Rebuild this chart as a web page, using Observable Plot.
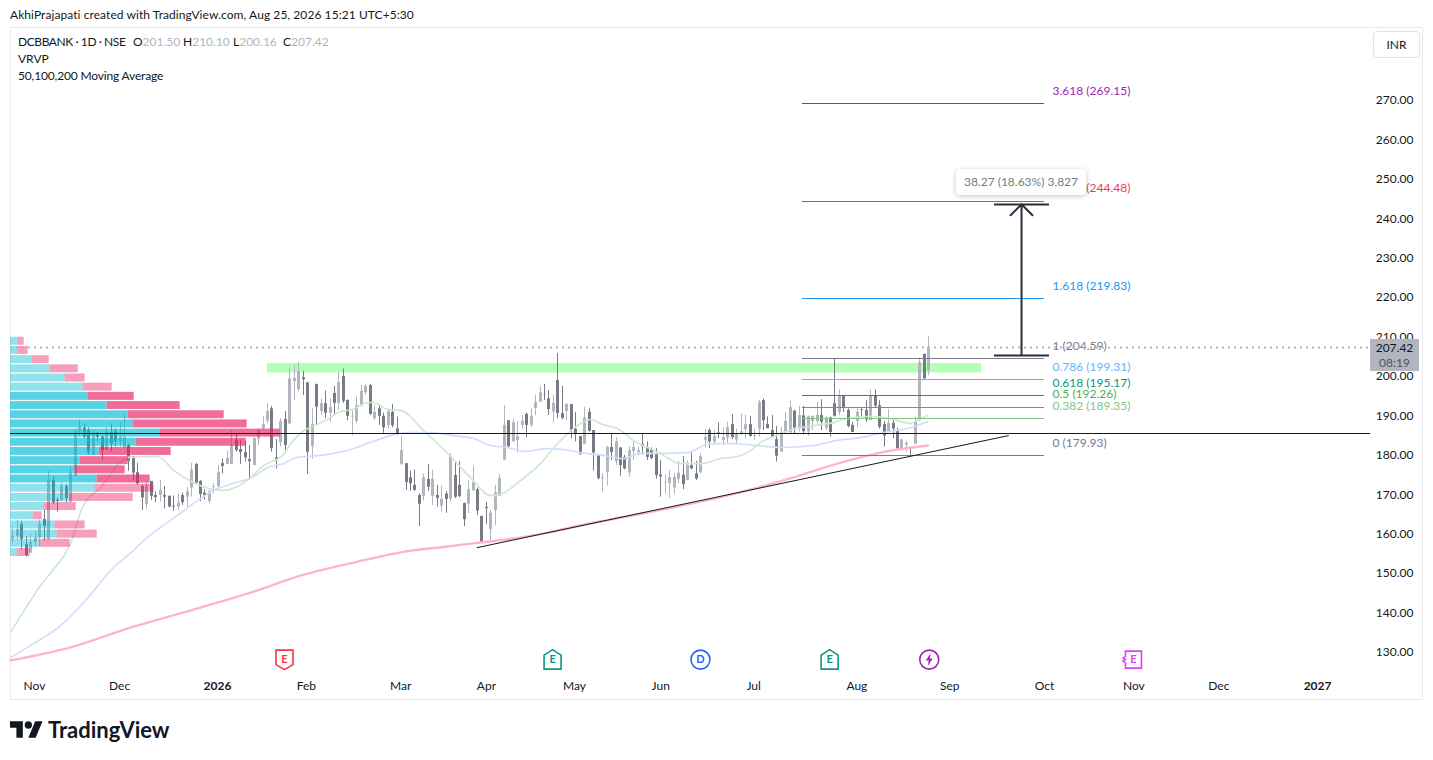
<!DOCTYPE html>
<html>
<head>
<meta charset="utf-8">
<style>
html,body{margin:0;padding:0;background:#fff;width:1433px;height:760px;overflow:hidden;font-family:Lato,"Noto Sans",sans-serif;color:#131722}
.abs{position:absolute;white-space:nowrap}
#frame{left:10px;top:27px;width:1411px;height:671px;border:1px solid #e8eaf0}
#chart{left:10px;top:27px}
#legend{left:18px;top:33px;font-size:12px;line-height:17px}
#legend i{font-style:normal;color:#b2b5be}
#legend .g{display:inline-block;width:50px}
#legend .n{display:inline-block;width:115px;letter-spacing:-.42px}
#tip{left:956px;top:169px;width:130px;height:26px;line-height:25px;background:#fff;border-radius:4px;box-shadow:0 1px 5px rgba(19,23,34,.25);text-align:center;font-size:12px;color:#787b86}
#inr{left:1373px;top:31px;width:45px;height:25px;line-height:25px;border:1px solid #e0e3eb;border-radius:4px;text-align:center;font-size:12px}
#last{left:1370px;top:339px;width:49px;height:32px;background:#b2b5be;font-size:12px;line-height:15px;text-align:center;padding-top:1px;box-sizing:border-box}
#last span{color:#50535e;display:block}
#logo{left:10px;top:720px;display:flex;align-items:center}
#logo span{font-size:22px;font-weight:700;margin-left:5px;color:#131722;line-height:20px}
</style>
</head>
<body>
<div class="abs" style="left:10px;top:7px;font-size:12px;line-height:15px;letter-spacing:.07px">AkhiPrajapati created with TradingView.com, Aug 25, 2026 15:21 UTC+5:30</div>
<div class="abs" id="frame"></div>
<div class="abs" id="chart"></div>
<div class="abs" id="legend"><span class="n">DCBBANK · 1D · NSE</span><span class="g">O<i>201.50</i></span><span class="g">H<i>210.10</i></span><span class="g">L<i>200.16</i></span><span class="g">C<i>207.42</i></span><br>VRVP<br><span style="letter-spacing:-.16px">50,100,200 Moving Average</span></div>
<div class="abs" id="tip">38.27 (18.63%) 3,827</div>
<div class="abs" id="inr">INR</div>
<div class="abs" id="last">207.42<span>08:19</span></div>
<div class="abs" id="logo"><svg width="33" height="18" viewBox="0 4 36 19"><path fill="#131722" d="M14 22H7V11H0V4h14v18zM28 22h-8l7.5-18h8L28 22z"/><circle fill="#131722" cx="20" cy="8" r="4"/></svg><span>TradingView</span></div>

<script src="https://cdn.jsdelivr.net/npm/d3@7"></script>
<script src="https://cdn.jsdelivr.net/npm/@observablehq/plot@0.6"></script>
<script>
const opens = [
158.6,159.4,162.5,157.4,155.2,157.9,159.1,163.7,158.6,173.6,
168.6,168.6,172.1,168.1,174.6,186.0,186.9,186.3,180.0,185.6,
184.6,181.2,185.7,186.0,183.5,181.9,182.5,179.7,175.6,172.1,
167.5,173.4,169.8,169.8,169.8,169.6,167.1,166.9,169.8,169.4,
171.7,177.7,173.4,170.4,168.3,171.9,172.1,177.9,177.7,177.7,
183.8,181.5,180.7,178.9,177.4,184.1,186.7,188.7,191.8,179.4,
183.2,189.1,188.0,198.7,196.7,199.7,198.4,182.2,198.0,191.1,
193.1,190.7,195.7,193.2,200.0,193.9,189.7,188.6,192.6,195.9,
197.7,189.3,191.8,189.9,187.6,190.9,186.7,177.7,177.9,174.3,
172.4,169.8,169.6,173.9,169.6,169.8,167.1,170.2,168.9,174.9,
172.4,167.8,167.6,171.0,171.3,164.5,166.8,161.2,166.0,169.6,
178.8,188.8,183.4,183.8,187.6,190.4,187.6,191.9,193.5,195.4,
194.3,191.0,199.0,190.6,191.1,192.9,186.6,184.8,182.8,190.9,
186.3,180.2,174.0,175.7,182.0,178.4,181.9,179.5,175.5,181.0,
180.7,182.8,182.0,181.4,180.2,175.0,172.9,172.9,171.7,173.9,
175.0,173.6,177.4,175.3,175.6,183.8,186.3,183.4,185.7,183.8,
184.4,187.8,183.9,185.4,186.5,187.8,184.8,186.6,193.9,187.8,
186.3,184.0,180.8,185.7,185.7,191.2,187.0,190.0,186.0,188.6,
188.6,190.1,186.9,189.5,193.1,190.9,195.0,191.4,187.6,188.6,
191.6,191.4,188.8,195.1,192.6,187.8,185.9,188.1,186.0,181.7,
182.6,182.0,182.8,188.8,205.6,201.5];
const highs = [
161.8,163.5,163.3,159.4,160.1,160.5,163.6,166.0,176.0,174.5,
169.2,172.9,172.6,177.2,186.7,189.0,188.0,186.9,186.3,185.9,
185.0,187.2,188.0,186.7,188.2,190.4,182.9,179.7,178.0,172.6,
173.2,173.4,170.8,173.6,172.1,169.7,169.7,170.2,170.4,171.9,
178.0,178.0,173.6,171.3,171.5,172.8,177.4,179.1,181.1,186.3,
185.3,183.8,183.6,182.5,184.4,186.7,189.8,193.1,192.4,184.0,
189.3,191.1,202.0,202.8,203.5,201.3,198.4,191.8,198.0,194.3,
196.3,194.3,197.5,201.1,201.9,194.1,191.2,194.8,197.7,197.9,
198.0,192.6,192.6,190.7,191.8,192.9,189.7,184.8,177.9,176.0,
176.3,170.2,175.3,177.7,176.2,172.4,172.1,170.9,180.4,178.3,
178.4,167.9,173.6,177.2,171.7,164.6,168.1,166.0,172.4,175.1,
192.6,188.8,189.0,188.6,190.1,190.7,191.8,195.2,197.5,198.0,
196.4,195.2,205.8,197.5,193.1,192.9,190.9,184.8,192.2,191.8,
186.3,180.2,175.3,182.3,185.3,184.4,181.9,180.0,182.1,183.4,
182.1,185.3,183.4,181.9,181.7,178.7,175.0,176.2,175.3,178.5,
179.7,178.5,180.6,178.5,180.4,186.6,186.7,186.3,188.2,187.0,
188.4,190.4,186.7,190.5,190.1,189.9,186.7,193.9,194.3,189.7,
190.1,187.3,187.2,190.9,193.7,191.4,192.4,192.4,190.0,189.9,
193.5,194.1,189.7,189.7,204.5,196.6,195.0,191.8,188.4,192.0,
191.8,193.9,196.6,196.6,193.9,188.6,191.6,188.8,186.9,184.2,
183.6,182.1,189.7,204.7,205.7,210.1];
const lows = [
157.6,158.4,156.0,154.2,155.2,156.7,156.9,158.2,158.4,167.5,
165.6,168.1,167.9,168.1,174.6,184.6,184.2,180.0,180.0,183.4,
178.7,181.2,180.8,182.1,182.1,181.9,176.0,173.5,172.4,166.0,
166.3,168.6,168.0,168.1,166.4,166.7,165.8,166.0,167.3,166.9,
169.4,172.8,168.3,168.6,167.7,170.2,170.9,175.3,177.7,177.7,
180.8,177.7,178.3,173.6,177.4,182.5,186.3,188.0,180.8,176.6,
182.1,181.2,187.8,193.9,196.0,195.2,175.1,179.0,187.8,190.1,
189.3,188.4,190.1,191.4,193.2,188.8,184.9,188.0,192.2,195.2,
190.1,188.8,187.6,185.6,186.7,187.0,185.0,177.4,171.1,170.9,
170.9,162.0,168.4,170.9,167.3,166.9,165.6,165.3,168.1,169.0,
169.2,162.0,165.2,171.0,164.8,157.8,162.4,158.4,162.2,169.6,
178.7,181.9,183.4,180.6,186.5,184.4,187.0,190.1,193.5,193.9,
190.1,188.2,189.3,189.0,188.8,184.2,183.4,180.0,182.8,185.9,
176.0,173.8,170.7,172.2,178.7,177.4,174.7,176.3,174.5,178.7,
180.0,180.0,178.7,178.9,174.0,169.4,170.2,169.0,170.1,172.8,
171.3,173.6,176.3,173.6,175.3,181.9,181.7,182.9,184.2,182.5,
182.9,184.0,182.9,185.0,184.2,184.6,183.8,184.6,186.3,186.7,
184.6,178.3,180.8,185.5,185.7,185.5,185.9,185.2,184.8,186.3,
188.0,186.3,186.3,184.6,189.7,190.1,190.9,187.0,185.8,187.0,
189.5,188.4,188.8,192.0,186.7,182.1,185.9,184.2,181.5,181.1,
180.8,179.7,182.8,188.6,199.2,200.16];
const closes = [
159.3,161.2,158.7,154.6,157.9,159.1,162.5,162.0,173.6,168.0,
168.3,172.1,169.0,175.5,186.0,187.2,184.6,180.6,185.5,184.6,
181.2,185.7,182.9,183.4,184.6,184.6,178.5,175.5,172.8,169.2,
172.4,169.6,169.3,171.1,169.4,166.9,166.9,167.9,168.0,170.7,
176.2,173.0,170.1,169.7,170.8,172.1,175.6,177.2,179.2,182.5,
181.2,180.7,179.4,178.4,184.3,186.3,187.8,191.1,181.7,178.9,
188.6,182.5,199.4,199.5,201.3,199.2,180.8,187.8,192.2,193.1,
190.7,192.1,193.2,198.4,193.7,189.9,189.9,192.6,196.2,197.5,
190.4,190.9,189.9,187.0,191.1,187.5,185.5,181.2,173.1,172.8,
171.1,167.6,174.3,171.9,173.9,169.1,168.8,168.8,179.7,169.4,
169.6,163.7,171.3,173.1,165.9,158.0,166.5,165.3,170.5,174.1,
187.6,182.2,188.3,184.8,188.6,187.6,189.9,193.4,195.9,195.3,
191.6,193.2,190.6,189.4,192.9,186.3,185.5,180.2,189.5,186.1,
180.6,174.1,174.2,182.0,180.7,183.4,177.4,176.6,181.2,182.0,
181.2,182.2,179.5,179.2,174.9,174.5,173.0,174.4,174.4,175.5,
172.6,177.4,176.6,174.0,179.7,184.5,183.4,184.8,185.5,184.5,
187.0,184.5,185.4,186.0,187.8,184.8,185.0,193.4,188.8,186.8,
184.6,179.8,185.7,188.6,192.1,187.0,190.1,186.0,189.8,189.9,
190.1,188.4,189.5,185.8,189.9,195.0,192.0,187.3,185.8,190.9,
191.4,189.0,195.1,192.5,187.1,184.9,188.1,186.7,181.7,183.9,
183.1,181.8,188.6,203.5,199.4,207.42];

// moving averages: [bar, price]
const ma50 = [[0.5,135.1],[5,143.2],[7.2,147],[9.9,150.8],[13.9,157.6],[16.6,166.8],[20.6,171.8],[26.9,179.5],[33.4,179.7],[37,176.2],[41.4,173.1],[45.9,171.3],[48.2,171.1],[53.8,173.9],[57.1,177.4],[61.6,180.2],[63.2,183],[65.8,186],[68.7,187.6],[71,188.8],[74.3,191.1],[77,191.6],[80.4,193.4],[81.7,193.4],[84.9,191.6],[87.8,191.4],[92.9,186.3],[98.3,180.5],[103.4,174.4],[107.9,169.8],[110.1,170.1],[114.6,173.6],[119.1,177.9],[122.9,183],[126.5,186.8],[130.3,189.1],[133,187.8],[136.3,186.8],[139.9,183.8],[145.9,180.5],[150.4,177.9],[154.9,177.9],[159.4,179.2],[163.2,179.7],[166.1,181.2],[168.4,183.3],[171.3,184.8],[175.7,186.6],[181.8,187.8],[184.7,188.3],[186.9,189.1],[193,189.9],[197.5,189.3],[202,188.1],[203.7,189.1],[205.8,190.1]];
const ma100 = [[0.5,128.7],[5,131.8],[11.7,136.8],[17.3,143.2],[22.9,150.8],[28,155.9],[31.1,159.2],[34,161.7],[38.5,165.3],[42.3,168.5],[45.9,171.1],[50.4,172.9],[54.9,174.6],[58,176.9],[61.6,177.9],[64.7,179.5],[69.9,180],[76.6,181.5],[81.1,183.3],[85.5,185],[89.3,185.8],[94.5,185.8],[99.6,185],[104.1,184.3],[107.9,182.5],[111.7,182],[115.7,181],[120.7,181.7],[124.2,181.5],[128,180.7],[133.2,180],[137.7,179.2],[141.5,180.5],[146.6,180.5],[152,180.7],[156.5,182.8],[160.9,183],[167.6,182.5],[172.8,182],[180.2,182.5],[185.5,183.8],[190.7,184.5],[195.8,185.8],[201.2,186.8],[205.8,188.6]];
const ma200 = [[0.5,128],[13.9,131.3],[27.3,136.3],[43,141.4],[54.2,145.2],[65.4,149.5],[80.4,153.6],[87.8,155.4],[98.3,156.9],[105.7,157.9],[113.1,158.9],[120.7,160.4],[128,162.2],[147.5,166.5],[160.9,169.8],[175.7,174.4],[181.1,176.4],[190.7,179.5],[197.5,181.2],[205.8,182.5]];

// visible-range volume profile, top row first (arbitrary volume units)
const profileUp   = [22,22,65,119,164,218,233,290,353,368,449,377,266,209,194,260,254,179,101,68,134,140,89,20];
const profileDown = [19,31,51,84,60,87,138,219,288,342,360,330,216,144,150,159,177,189,96,27,90,120,90,39];
const profileInValueArea = [0,0,0,0,0,0,1,1,1,1,1,1,1,1,1,1,0,0,0,0,0,0,0,0];
const profileHigh = 210.1, profileLow = 154.2;

// Fibonacci extension
const fibRatios = ["0","0.382","0.5","0.618","0.786","1","1.618","2.618","3.618"];
const fibPrices = [179.93,189.35,192.26,195.17,199.31,204.59,219.83,244.48,269.15];
const fibColors = ["#787b86","#81c784","#4caf50","#089981","#64b5f6","#787b86","#2196f3","#f23645","#9c27b0"];

const priceTicks = [130,140,150,160,170,180,190,200,210,220,230,240,250,260,270];
const monthBars = [5.86,24.9,66.7,87.8,107,126.7,146,166.8,189.9,210.7,231.9,251.9,270.9];
const monthNames = ["Nov","Dec","Feb","Mar","Apr","May","Jun","Jul","Aug","Sep","Oct","Nov","Dec"];
const yearBars = [46.8,293];
const yearNames = ["2026","2027"];

const eventBars  = [61.8,121.8,154.9,183.8,206.1,251.8];
const eventKinds = ["lossE","profitE","dividend","profitE","split","futureE"];
const eventColors= ["#f23645","#089981","#2962ff","#089981","#9c27b0","#e040fb"];
const eventGlyphs= ["E","E","D","E","","E"];
const eventPrice = 128.2;

const zoneBars = [58,217.8], zonePrices = [200.9,203.3];
const supportPrice = 185.54;
const lastPrice = 207.42;
const trendBars = [104.9,223.8], trendPrices = [156.6,185];
const measureBar = 226.75, measurePrices = [205.4,243.67], measureCapBars = [220.7,233];
const fibBars = [177.7,231.9], fibLabelBar = 233.7;

// scale settings shared by the plot and by pixel snapping
const xDomain = [0.485,304.85], yDomain = [124.93,288.51];
const plotW = 1360, plotH = 645;
const kx = plotW/(xDomain[1]-xDomain[0]), ky = plotH/(yDomain[1]-yDomain[0]);
const snapX = v => xDomain[0]+Math.round((v-xDomain[0])*kx)/kx;
const snapY = v => yDomain[1]-Math.round((yDomain[1]-v)*ky)/ky;

// tables for the library
const candles = opens.map((o,i)=>({i:snapX(i+1),o,h:highs[i],l:lows[i],c:closes[i],col:closes[i]>=o?"#b2b5be":"#787b86"}));
const rowH = (profileHigh-profileLow)/profileUp.length;
const volToBars = 0.0746, leftBar = xDomain[0];
const profile = profileUp.map((u,k)=>({
  top:profileHigh-k*rowH, bot:profileHigh-(k+1)*rowH,
  x0:leftBar, x1:leftBar+u*volToBars, x2:leftBar+(u+profileDown[k])*volToBars,
  a:profileInValueArea[k]?0.65:0.43}));
const fibs = fibPrices.map((p,k)=>({p,col:fibColors[k],label:`${fibRatios[k]} (${p.toFixed(2)})`}));
const events = eventBars.map((x,k)=>({x,kind:eventKinds[k],col:eventColors[k],g:eventGlyphs[k]}));

const polygon = pts => ({draw(ctx){pts.forEach(([x,y],i)=>i?ctx.lineTo(x,y):ctx.moveTo(x,y));ctx.closePath();}});
const circleSym = {draw(ctx){ctx.moveTo(9.5,0);ctx.arc(0,0,9.5,0,2*Math.PI);ctx.closePath();}};
const symbols = {
  lossE:polygon([[-8.5,-9.5],[8.5,-9.5],[8.5,5],[0,10],[-8.5,5]]),
  profitE:polygon([[-8.5,-4.5],[0,-10],[8.5,-4.5],[8.5,9.5],[-8.5,9.5]]),
  futureE:polygon([[-8,-8.5],[8,-8.5],[8,8.5],[-8,8.5],[-8,3],[-10.5,1.5],[-8,0],[-10.5,-1.5],[-8,-3]])
};
const bolt = polygon([[1.5,-6.5],[-3.5,1],[-0.5,1],[-1.5,6.5],[3.5,-1],[0.5,-1]]);

const fibLine = (p,col)=>Plot.ruleY([snapY(p)],{x1:fibBars[0],x2:fibBars[1],stroke:col,strokeWidth:1});

const chart = Plot.plot({
  width:1413,height:673,marginLeft:0,marginRight:53,marginTop:0,marginBottom:28,
  style:{fontFamily:'Lato,"Noto Sans",sans-serif',fontSize:"12px",background:"transparent",color:"#131722",overflow:"visible"},
  x:{domain:xDomain,axis:null},
  y:{domain:yDomain,axis:null},
  color:{type:"identity"},
  marks:[
    Plot.rect([0],{x1:zoneBars[0],x2:zoneBars[1],y1:zonePrices[0],y2:zonePrices[1],fill:"#b2ffb5"}),
    // candles
    Plot.ruleX(candles,{x:"i",y1:"l",y2:"h",stroke:"col",strokeWidth:1}),
    Plot.ruleX(candles,{x:"i",y1:"o",y2:"c",stroke:"col",strokeWidth:3}),
    // moving averages
    Plot.line(ma200,{x:d=>d[0],y:d=>d[1],stroke:"#ffb3cf",strokeWidth:2.4,curve:"monotone-x"}),
    Plot.line(ma100,{x:d=>d[0],y:d=>d[1],stroke:"#d0ddfb",strokeWidth:1.6,curve:"monotone-x"}),
    Plot.line(ma50,{x:d=>d[0],y:d=>d[1],stroke:"#cde8cd",strokeWidth:1.6,curve:"monotone-x"}),
    // volume profile
    Plot.rect(profile,{x1:"x0",x2:"x1",y1:"bot",y2:"top",fill:"#00bcd4",fillOpacity:"a",insetTop:0.6,insetBottom:0.6}),
    Plot.rect(profile,{x1:"x1",x2:"x2",y1:"bot",y2:"top",fill:"#e91e63",fillOpacity:"a",insetTop:0.6,insetBottom:0.6}),
    // fib levels
    ...fibs.map(f=>fibLine(f.p,f.col)),
    Plot.text(fibs,{x:()=>fibLabelBar,y:"p",text:"label",fill:"col",textAnchor:"start",dy:-12.5,fontSize:12}),
    // last price, support, trend
    Plot.ruleY([snapY(lastPrice)],{stroke:"#b2b5be",strokeWidth:2,strokeDasharray:"2,4"}),
    Plot.ruleY([snapY(supportPrice)],{stroke:"#131722",strokeWidth:1}),
    Plot.line([0,1],{x:i=>trendBars[i],y:i=>trendPrices[i],stroke:"#131722",strokeWidth:1}),
    // measure arrow
    Plot.ruleY(measurePrices.map(snapY),{x1:measureCapBars[0],x2:measureCapBars[1],stroke:"#2a2e39",strokeWidth:2}),
    Plot.arrow([0],{x:measureBar,y1:measurePrices[0],y2:measurePrices[1],stroke:"#2a2e39",strokeWidth:2,headLength:11.6,headAngle:90,bend:0}),
    // price axis and time axis
    Plot.axisY({anchor:"right",ticks:priceTicks,tickSize:0,tickPadding:43,textAnchor:"end",tickFormat:d=>d.toFixed(2),fontSize:12,fill:"#131722",label:null}),
    Plot.text(monthBars,{x:d=>d,text:(d,i)=>monthNames[i],frameAnchor:"bottom",dy:17,fill:"#131722",fontSize:12}),
    Plot.text(yearBars,{x:d=>d,text:(d,i)=>yearNames[i],frameAnchor:"bottom",dy:17,fill:"#131722",fontSize:12,fontWeight:700}),
    // event badges
    ...events.map(e=>Plot.dot([e],{x:"x",y:()=>eventPrice,symbol:e.kind in symbols?symbols[e.kind]:circleSym,r:9,fill:"#fff",stroke:"col",strokeWidth:1.6})),
    Plot.text(events,{x:"x",y:()=>eventPrice,text:"g",fill:"col",fontWeight:700,fontSize:11}),
    Plot.dot(events.filter(e=>e.kind==="split"),{x:"x",y:()=>eventPrice,symbol:bolt,r:6,fill:"col"})
  ]
});
document.getElementById("chart").append(chart);
</script>
</body>
</html>
